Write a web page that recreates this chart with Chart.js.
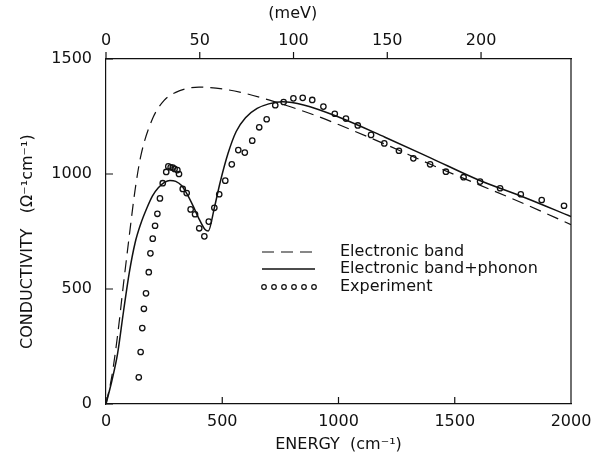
<!DOCTYPE html>
<html>
<head>
<meta charset="utf-8">
<script src="https://cdn.jsdelivr.net/npm/chart.js@4.4.1/dist/chart.umd.min.js"></script>
<style>
    html, body { margin: 0; padding: 0; background: #fff; }
    #wrap { width: 610px; height: 454px; position: relative; }
</style>
</head>
<body>
<div id="wrap"><canvas id="chart"></canvas></div>
<script>
// ── Data ─────────────────────────────────────────────────────────────────────
const bandX = [0, 25, 50, 75, 100, 125, 150, 200, 250, 300, 350, 400, 500, 600, 700, 800, 900, 1000, 1200, 1400, 1600, 1800, 2000];
const bandY = [0, 120, 300, 520, 730, 930, 1080, 1240, 1320, 1355, 1372, 1378, 1370, 1350, 1322, 1290, 1255, 1215, 1130, 1040, 955, 870, 780];

const phononX = [0, 25, 50, 75, 100, 125, 150, 175, 200, 225, 250, 275, 300, 325, 350, 375, 400, 425, 440, 466, 490, 525, 560, 600, 650, 700, 760, 850, 1000, 1200, 1400, 1600, 1800, 2000];
const phononY = [0, 100, 220, 400, 570, 700, 785, 850, 905, 940, 962, 972, 968, 950, 910, 860, 805, 760, 752, 853, 960, 1090, 1185, 1245, 1285, 1305, 1314, 1300, 1248, 1160, 1068, 975, 898, 815];

const expX = [141, 149, 156, 163, 172, 184, 191, 201, 211, 221, 232, 244, 259, 268, 278, 287, 295, 307, 314, 330, 347, 364, 383, 401, 423, 442, 466, 487, 513, 541, 569, 597,
              629, 659, 691, 728, 764, 806, 846, 887, 935, 984, 1032, 1083, 1140, 1197, 1260, 1322, 1394, 1462, 1538, 1609, 1695, 1784, 1874, 1970];
const expY = [116, 226, 330, 414, 481, 573, 655, 719, 775, 827, 894, 960, 1009, 1033, 1029, 1028, 1022, 1017, 1000, 935, 917, 846, 825, 764, 729, 793, 853, 912, 971, 1042, 1104, 1093,
              1145, 1203, 1238, 1299, 1313, 1329, 1331, 1322, 1293, 1262, 1241, 1211, 1170, 1133, 1101, 1068, 1042, 1010, 986, 967, 938, 912, 887, 862];

const energyTicks = [0, 500, 1000, 1500, 2000];
const condTicks   = [0, 500, 1000, 1500];
const meVTicks    = [0, 50, 100, 150, 200];
const CM_PER_MEV  = 8.0655;

const legendLabels = ['Electronic band', 'Electronic band+phonon', 'Experiment'];

const toPoints = (xs, ys) => xs.map((x, i) => ({ x, y: ys[i] }));

const FONT = 'DejaVu Sans';
const INK  = '#111';

// ── Tick marks, right frame and legend ───────────────────────────────────────
const framePlugin = {
    id: 'frame',
    afterDraw(chart) {
        const { ctx, chartArea: a, scales } = chart;
        ctx.save();
        ctx.strokeStyle = INK;
        ctx.lineWidth = 1.2;
        ctx.beginPath();
        // right frame
        ctx.moveTo(a.right, a.top);
        ctx.lineTo(a.right, a.bottom);
        // inward ticks on left axis
        condTicks.forEach(v => {
            const y = scales.y.getPixelForValue(v);
            ctx.moveTo(a.left, y);
            ctx.lineTo(a.left + 7, y);
        });
        // inward ticks on bottom axis
        energyTicks.forEach(v => {
            const x = scales.x.getPixelForValue(v);
            ctx.moveTo(x, a.bottom);
            ctx.lineTo(x, a.bottom - 7);
        });
        // outward ticks on the meV axis
        meVTicks.forEach(v => {
            const x = scales.xTop.getPixelForValue(v);
            ctx.moveTo(x, a.top);
            ctx.lineTo(x, a.top - 7);
        });
        ctx.stroke();

        // legend
        const ds = chart.data.datasets;
        const rows = [252, 269, 287];
        const x0 = 262, x1 = 315, tx = 340;
        ctx.font = `16px "${FONT}"`;
        ctx.fillStyle = INK;
        ctx.textBaseline = 'middle';
        ctx.textAlign = 'left';
        rows.forEach((ry, i) => {
            ctx.setLineDash(ds[i].borderDash || []);
            if (i < 2) {
                ctx.lineWidth = ds[i].borderWidth;
                ctx.beginPath();
                ctx.moveTo(x0, ry);
                ctx.lineTo(x1, ry);
                ctx.stroke();
            } else {
                ctx.lineWidth = 1.2;
                for (let k = 0; k < 6; k++) {
                    ctx.beginPath();
                    ctx.arc(x0 + 2 + k * 10, ry, 2.3, 0, Math.PI * 2);
                    ctx.stroke();
                }
            }
            ctx.setLineDash([]);
            ctx.fillText(legendLabels[i], tx, ry);
        });
        ctx.restore();
    }
};

const plain = v => String(v);

// ── Chart ────────────────────────────────────────────────────────────────────
const ctx = document.getElementById('chart').getContext('2d');
new Chart(ctx, {
    type: 'scatter',
    data: {
        datasets: [
            {
                label: legendLabels[0],
                data: toPoints(bandX, bandY),
                showLine: true,
                borderColor: INK,
                borderWidth: 1.2,
                borderDash: [12, 7],
                pointRadius: 0,
                cubicInterpolationMode: 'monotone'
            },
            {
                label: legendLabels[1],
                data: toPoints(phononX, phononY),
                showLine: true,
                borderColor: INK,
                borderWidth: 1.5,
                pointRadius: 0,
                cubicInterpolationMode: 'monotone'
            },
            {
                label: legendLabels[2],
                data: toPoints(expX, expY),
                showLine: false,
                pointStyle: 'circle',
                pointRadius: 2.7,
                pointBorderWidth: 1.3,
                pointBorderColor: INK,
                pointBackgroundColor: 'rgba(0,0,0,0)'
            }
        ]
    },
    options: {
        responsive: true,
        maintainAspectRatio: false,
        animation: false,
        layout: { padding: { left: 0, right: 39, top: 0, bottom: 0 } },
        plugins: {
            legend: { display: false },
            tooltip: { enabled: false }
        },
        scales: {
            x: {
                type: 'linear',
                position: 'bottom',
                min: 0,
                max: 2000,
                afterBuildTicks: s => { s.ticks = energyTicks.map(value => ({ value })); },
                afterFit: s => { s.height = 50; },
                grid: { display: false },
                border: { display: true, color: INK, width: 1.2 },
                ticks: { color: INK, padding: 0, maxRotation: 0, callback: plain, font: { family: FONT, size: 16 } },
                title: {
                    display: true,
                    text: 'ENERGY  (cm⁻¹)',
                    color: INK,
                    padding: { top: 0, bottom: 0 },
                    font: { family: FONT, size: 16 }
                }
            },
            xTop: {
                type: 'linear',
                position: 'top',
                min: 0,
                max: 2000 / CM_PER_MEV,
                afterBuildTicks: s => { s.ticks = meVTicks.map(value => ({ value })); },
                afterFit: s => { s.height = 59; },
                grid: { display: false },
                border: { display: true, color: INK, width: 1.2 },
                ticks: { color: INK, padding: 1, maxRotation: 0, callback: plain, font: { family: FONT, size: 16 } },
                title: {
                    display: true,
                    text: '(meV)                  ',
                    color: INK,
                    padding: { top: 4, bottom: 0 },
                    font: { family: FONT, size: 16 }
                }
            },
            y: {
                type: 'linear',
                min: 0,
                max: 1500,
                afterBuildTicks: s => { s.ticks = condTicks.map(value => ({ value })); },
                afterFit: s => { s.width = 106; },
                grid: { display: false },
                border: { display: true, color: INK, width: 1.2 },
                ticks: { color: INK, padding: 6, callback: plain, font: { family: FONT, size: 16 } },
                title: {
                    display: true,
                    text: 'CONDUCTIVITY   (Ω⁻¹cm⁻¹)    ',
                    color: INK,
                    padding: { top: 18, bottom: 0 },
                    font: { family: FONT, size: 16 }
                }
            }
        }
    },
    plugins: [framePlugin]
});
</script>
</body>
</html>
